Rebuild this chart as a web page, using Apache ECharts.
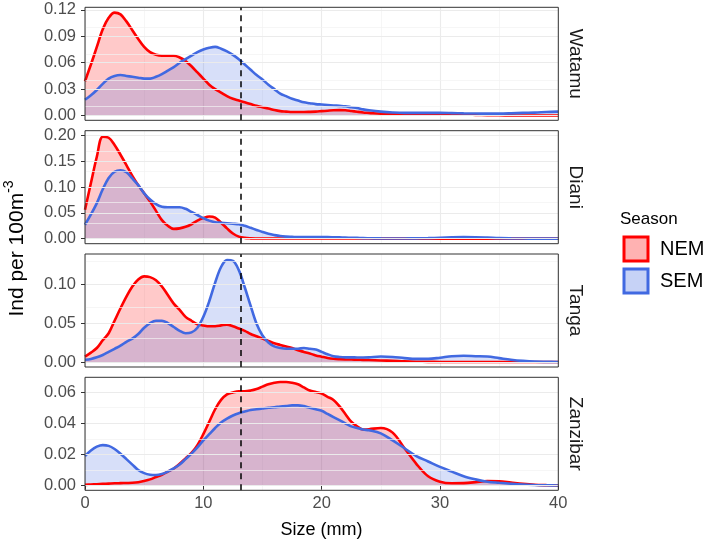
<!DOCTYPE html>
<html><head><meta charset="utf-8">
<script src="https://cdn.jsdelivr.net/npm/echarts@6/dist/echarts.min.js"></script>
<style>html,body{margin:0;padding:0;background:#fff}#c{width:708px;height:543px}</style>
</head><body><div id="c"></div>
<script>
// ---- data ----
const sizes = [0,0.5,1,1.5,2,2.5,3,3.5,4,4.5,5,5.5,6,6.5,7,7.5,8,8.5,9,9.5,10,10.5,11,11.5,12,12.5,13,13.5,14,14.5,15,15.5,16,16.5,17,17.5,18,18.5,19,19.5,20,20.5,21,21.5,22,22.5,23,23.5,24,25,26,27,28,29,30,31,32,33,34,35,36,37,38,39,40];
const sites = ['Watamu','Diani','Tanga','Zanzibar'];
const seasons = ['NEM','SEM'];

const watamuNEM = [0.039,0.058,0.078,0.098,0.111,0.117,0.115,0.107,0.097,0.087,
  0.078,0.072,0.069,0.068,0.068,0.068,0.066,0.062,0.056,0.049,
  0.042,0.035,0.030,0.026,0.022,0.019,0.017,0.015,0.013,0.011,
  0.0095,0.008,0.0062,0.005,0.0045,0.004,0.004,0.004,0.0042,0.0045,
  0.005,0.0055,0.006,0.0062,0.006,0.0052,0.0043,0.0035,0.003,
  0.002,0.0015,0.0012,0.001,0.001,0.001,0.001,0.001,0.0008,0.0005,0.0003,0.0002,0.0001,0.0001,0.0001,0.0001];
const watamuSEM = [0.018,0.023,0.029,0.036,0.042,0.045,0.046,0.045,0.044,0.043,
  0.042,0.042,0.044,0.047,0.051,0.055,0.060,0.064,0.068,0.072,
  0.075,0.077,0.078,0.076,0.073,0.069,0.064,0.058,0.052,0.046,
  0.041,0.035,0.030,0.025,0.022,0.019,0.017,0.015,0.014,0.013,
  0.0125,0.012,0.0115,0.011,0.0105,0.0095,0.0085,0.007,0.006,
  0.0045,0.0035,0.003,0.003,0.003,0.003,0.0028,0.0025,0.0023,0.0022,0.0022,0.0025,0.003,0.0033,0.004,0.0045];
const dianiNEM = [0.056,0.108,0.159,0.198,0.196,0.182,0.163,0.143,0.122,0.104,
  0.088,0.072,0.054,0.036,0.025,0.019,0.020,0.023,0.028,0.035,
  0.040,0.043,0.041,0.031,0.020,0.010,0.004,0.0015,0.0006,0.0003,
  0.0002,0.0002,0.0002,0.0002,0.0002,0.0002,0.0002,0.0002,0.0002,0.0002,
  0.0002,0.0002,0.0002,0.0002,0.0002,0.0002,0.0002,0.0002,0.0002,
  0.0001,0.0001,0.0001,0.0001,0.0001,0.0001,0.0001,0.0001,0.0001,0.0001,0.0001,0.0001,0.0001,0.0001,0.0001,0.0001];
const dianiSEM = [0.027,0.047,0.069,0.096,0.118,0.130,0.133,0.129,0.117,0.104,
  0.088,0.076,0.067,0.062,0.061,0.061,0.061,0.058,0.052,0.046,
  0.040,0.035,0.032,0.031,0.030,0.029,0.028,0.025,0.021,0.017,
  0.013,0.0095,0.007,0.005,0.004,0.0035,0.003,0.003,0.003,0.003,
  0.003,0.003,0.0028,0.0025,0.002,0.0018,0.0015,0.001,0.0008,
  0.0005,0.0004,0.0004,0.0006,0.001,0.0018,0.0026,0.003,0.0028,0.002,0.001,0.0005,0.0002,0.0001,0,0];
const tangaNEM = [0.007,0.012,0.018,0.028,0.037,0.053,0.069,0.084,0.097,0.106,
  0.110,0.109,0.105,0.097,0.086,0.075,0.067,0.058,0.053,0.0485,
  0.047,0.046,0.046,0.047,0.048,0.046,0.043,0.040,0.036,0.033,
  0.030,0.027,0.024,0.022,0.020,0.018,0.015,0.013,0.011,0.0085,
  0.0068,0.0052,0.0042,0.0037,0.0034,0.0032,0.003,0.0028,0.0025,
  0.002,0.0015,0.0008,0.0004,0.0002,0.0001,0.0001,0.0001,0.0001,0.0001,0.0001,0.0001,0.0001,0.0001,0.0001,0.0001];
const tangaSEM = [0.003,0.004,0.006,0.009,0.013,0.017,0.021,0.026,0.030,0.036,
  0.044,0.050,0.053,0.053,0.050,0.045,0.040,0.037,0.038,0.044,
  0.058,0.078,0.102,0.122,0.131,0.130,0.118,0.096,0.072,0.049,
  0.034,0.025,0.020,0.018,0.017,0.017,0.017,0.018,0.017,0.016,
  0.013,0.010,0.0075,0.0065,0.006,0.006,0.0058,0.0058,0.006,
  0.007,0.0065,0.005,0.004,0.004,0.0055,0.0075,0.008,0.0075,0.007,0.005,0.003,0.0015,0.0005,0.0002,0.0001];
const zanzibarNEM = [0.0005,0.0007,0.0009,0.0011,0.0013,0.0015,0.0016,0.0017,0.0018,0.0022,
  0.003,0.004,0.0055,0.007,0.009,0.011,0.014,0.0175,0.021,0.026,
  0.033,0.041,0.049,0.055,0.0585,0.0598,0.0605,0.0605,0.061,0.062,
  0.0635,0.065,0.066,0.0665,0.0665,0.066,0.065,0.063,0.061,0.060,
  0.059,0.057,0.055,0.051,0.046,0.041,0.038,0.036,0.0362,
  0.037,0.034,0.024,0.014,0.006,0.0025,0.0015,0.0016,0.0022,0.003,0.0028,0.002,0.0012,0.0006,0.0003,0.0001];
const zanzibarSEM = [0.019,0.0225,0.025,0.026,0.0255,0.0235,0.0205,0.017,0.0135,0.010,
  0.008,0.007,0.0068,0.0075,0.009,0.011,0.0135,0.017,0.0205,0.0245,
  0.029,0.033,0.037,0.0405,0.043,0.045,0.0465,0.0475,0.0485,0.049,
  0.0495,0.050,0.0503,0.0507,0.051,0.0515,0.0515,0.051,0.050,0.049,
  0.048,0.046,0.044,0.042,0.040,0.038,0.037,0.036,0.0355,
  0.0335,0.029,0.024,0.019,0.0155,0.012,0.009,0.006,0.004,0.0025,0.0018,0.0012,0.0007,0.0004,0.0002,0.0001];

const watamuTicks = [0,0.03,0.06,0.09,0.12];
const watamuMinor = [0.015,0.045,0.075,0.105];
const dianiTicks = [0,0.05,0.10,0.15,0.20];
const dianiMinor = [0.025,0.075,0.125,0.175];
const tangaTicks = [0,0.05,0.10];
const tangaMinor = [0.025,0.075,0.125];
const zanzibarTicks = [0,0.02,0.04,0.06];
const zanzibarMinor = [0.01,0.03,0.05];
const watamuRange = [-0.0054,0.1230];
const dianiRange = [-0.0098,0.2097];
const tangaRange = [-0.0064,0.1387];
const zanzibarRange = [-0.0030,0.0695];
const xTicks = [0,10,20,30,40];
const cutoffSize = 13.2;

// ---- build ----
const FONT = "'Liberation Sans', Arial, Helvetica, sans-serif";
const panels = [
  {site:sites[0], nem:watamuNEM, sem:watamuSEM, ticks:watamuTicks, minor:watamuMinor, range:watamuRange},
  {site:sites[1], nem:dianiNEM, sem:dianiSEM, ticks:dianiTicks, minor:dianiMinor, range:dianiRange},
  {site:sites[2], nem:tangaNEM, sem:tangaSEM, ticks:tangaTicks, minor:tangaMinor, range:tangaRange},
  {site:sites[3], nem:zanzibarNEM, sem:zanzibarSEM, ticks:zanzibarTicks, minor:zanzibarMinor, range:zanzibarRange}
];
const gridTops = [7.3, 130.7, 254, 377.3];
const gridH = 113;
const gridLeft = 85, gridW = 473.3;
const colors = {NEM:'#FF0000', SEM:'#4169E1'};
const fills = {NEM:'rgba(255,0,0,0.3)', SEM:'rgba(65,105,225,0.3)'};

const grid = [], xAxis = [], yAxis = [], series = [], graphic = [];
panels.forEach((p, i) => {
  const last = i === panels.length - 1;
  grid.push({left:gridLeft, top:gridTops[i], width:gridW, height:gridH, show:true,
    borderColor:'#333333', borderWidth:1, backgroundColor:'transparent', z:10});
  xAxis.push({type:'value', gridIndex:i, min:xTicks[0], max:xTicks[xTicks.length-1], interval:10,
    axisLine:{show:false},
    axisTick:{show:last, length:4, lineStyle:{color:'#333333'}},
    axisLabel:{show:last, fontSize:16.5, color:'#4D4D4D', fontFamily:FONT, margin:5},
    splitLine:{show:true, lineStyle:{color:'#EBEBEB', width:1.1}},
    minorTick:{show:false, splitNumber:2},
    minorSplitLine:{show:true, lineStyle:{color:'#F2F2F2', width:0.7}}
  });
  yAxis.push({type:'value', gridIndex:i, min:p.range[0], max:p.range[1],
    axisLine:{show:false},
    axisTick:{show:true, customValues:p.ticks, length:4, lineStyle:{color:'#333333'}},
    axisLabel:{show:true, customValues:p.ticks, formatter:v => v.toFixed(2), fontSize:16.5,
      color:'#4D4D4D', fontFamily:FONT, margin:9},
    splitLine:{show:false}
  });
  // horizontal grid lines
  series.push({type:'line', xAxisIndex:i, yAxisIndex:i, data:[], silent:true, z:1,
    markLine:{silent:true, symbol:['none','none'], label:{show:false}, animation:false,
      data: p.ticks.map(v => ({yAxis:v, lineStyle:{color:'#EBEBEB', width:1.1, type:'solid'}}))
        .concat(p.minor.map(v => ({yAxis:v, lineStyle:{color:'#F2F2F2', width:0.7, type:'solid'}})))
    }});
  [['NEM', p.nem], ['SEM', p.sem]].forEach(([name, vals]) => {
    series.push({type:'line', name:name, xAxisIndex:i, yAxisIndex:i, silent:true, z:2,
      data: sizes.map((x, k) => [x, vals[k]]),
      showSymbol:false, smooth:0.35,
      lineStyle:{color:colors[name], width:2.6},
      itemStyle:{color:colors[name]},
      areaStyle:{color:fills[name], origin:0}
    });
  });
  series.push({type:'line', xAxisIndex:i, yAxisIndex:i, data:[], silent:true, z:5,
    markLine:{silent:true, symbol:['none','none'], label:{show:false}, animation:false,
      data:[{xAxis:cutoffSize}], lineStyle:{color:'#000000', width:1.5, type:[6,5]}}});
  graphic.push({type:'text', x:575, y:gridTops[i] + gridH/2, rotation:-Math.PI/2,
    style:{text:p.site, fontSize:19, fontFamily:FONT, fill:'#1A1A1A', align:'center', verticalAlign:'middle'}});
});

graphic.push({type:'text', x:17, y:248.5, rotation:Math.PI/2,
  style:{text:'{a|Ind per 100m}{b|-3}', align:'center', verticalAlign:'middle', fill:'#000',
    rich:{a:{fontSize:21, fontFamily:FONT, lineHeight:30, fill:'#000'},
          b:{fontSize:14, fontFamily:FONT, verticalAlign:'top', fill:'#000'}}}});
graphic.push({type:'text', x:321.5, y:530,
  style:{text:'Size (mm)', fontSize:18, fontFamily:FONT, fill:'#000', align:'center', verticalAlign:'middle'}});
graphic.push({type:'text', x:620, y:219,
  style:{text:'Season', fontSize:17, fontFamily:FONT, fill:'#000', align:'left', verticalAlign:'middle'}});

const chart = echarts.init(document.getElementById('c'));
chart.setOption({
  animation:false,
  backgroundColor:'#ffffff',
  grid, xAxis, yAxis, series, graphic,
  legend:{show:true, orient:'vertical', left:622.5, top:235.5, padding:0, itemWidth:24, itemHeight:24,
    itemGap:5, icon:'rect', selectedMode:false,
    textStyle:{fontSize:20, color:'#000', fontFamily:FONT, padding:[0,0,0,7]},
    data: seasons.map(s => ({name:s, itemStyle:{color:fills[s], borderColor:colors[s], borderWidth:3}}))
  }
});
</script></body></html>
